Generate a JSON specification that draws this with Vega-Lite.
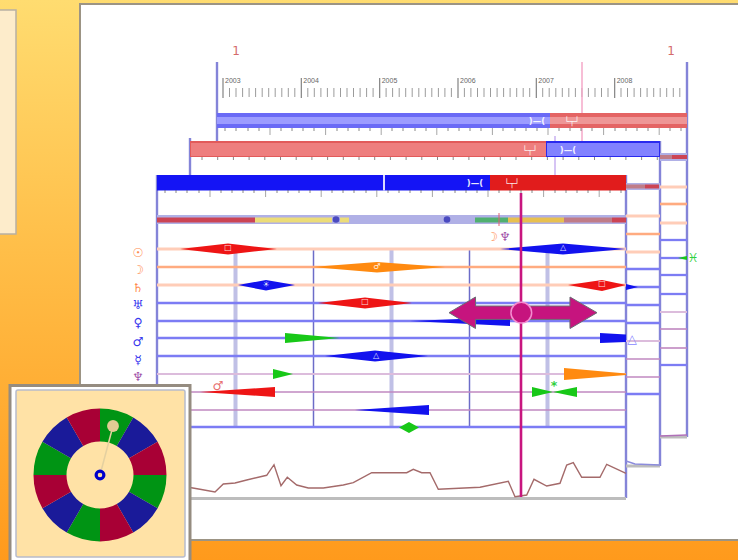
{"$schema":"https://vega.github.io/schema/vega-lite/v6.json","width":738,"height":560,"padding":0,"autosize":"none","background":"#ffffff","config":{"view":{"stroke":null},"axis":{"disable":true},"legend":{"disable":true}},"resolve":{"scale":{"color":"independent","size":"independent","strokeWidth":"independent"}},
"encoding":{"x":{"field":"x","type":"quantitative","scale":{"domain":[0,738],"nice":false,"zero":false}},"y":{"field":"y","type":"quantitative","scale":{"domain":[560,0],"nice":false,"zero":false}}},
"layer":[
{"data":{"values":[{"x":0,"x2":738,"y":0,"y2":560}]},"mark":{"type":"rect","color":{"x1":0,"y1":0,"x2":0,"y2":1,"gradient":"linear","stops":[{"offset":0,"color":"#ffdc70"},{"offset":0.45,"color":"#ffbe48"},{"offset":1,"color":"#ff9a1c"}]}},"encoding":{"x2":{"field":"x2"},"y2":{"field":"y2"}}},
{"data":{"values":[{"x":-2,"x2":16,"y":10,"y2":234}]},"mark":{"type":"rect","fill":"#fdeccb","stroke":"#b8b0a4","strokeWidth":1.5},"encoding":{"x2":{"field":"x2"},"y2":{"field":"y2"}}},
{"data":{"values":[{"x":80,"x2":742,"y":4,"y2":540}]},"mark":{"type":"rect","fill":"#ffffff","stroke":"#9c9484","strokeWidth":2},"encoding":{"x2":{"field":"x2"},"y2":{"field":"y2"}}},

{"data":{"values":[{"x":236,"y":51,"t":"1"},{"x":671,"y":51,"t":"1"}]},"mark":{"type":"text","font":"DejaVu Sans","fontSize":12,"color":"#d46a6a","align":"center","baseline":"middle"},"encoding":{"text":{"field":"t"}}},
{"data":{"values":[{"x":223,"y":81,"t":"2003"},{"x":301.3,"y":81,"t":"2004"},{"x":379.7,"y":81,"t":"2005"},{"x":458,"y":81,"t":"2006"},{"x":536.3,"y":81,"t":"2007"},{"x":614.7,"y":81,"t":"2008"}]},"mark":{"type":"text","font":"Liberation Sans","fontSize":7,"color":"#666666","align":"left","baseline":"middle","dx":2},"encoding":{"text":{"field":"t"}}},
{"data":{"values":[{"x":223,"y":78,"y2":98},{"x":301.3,"y":78,"y2":98},{"x":379.7,"y":78,"y2":98},{"x":458,"y":78,"y2":98},{"x":536.3,"y":78,"y2":98},{"x":614.7,"y":78,"y2":98}]},"mark":{"type":"rule","color":"#555555","strokeWidth":1.1,"opacity":0.8},"encoding":{"y2":{"field":"y2"}}},
{"data":{"values":[{"x":229.5,"y":88,"y2":97},{"x":236,"y":88,"y2":97},{"x":242.6,"y":88,"y2":97},{"x":249.1,"y":88,"y2":97},{"x":255.6,"y":88,"y2":97},{"x":262.2,"y":88,"y2":97},{"x":268.7,"y":88,"y2":97},{"x":275.2,"y":88,"y2":97},{"x":281.8,"y":88,"y2":97},{"x":288.3,"y":88,"y2":97},{"x":294.8,"y":88,"y2":97},{"x":307.8,"y":88,"y2":97},{"x":314.3,"y":88,"y2":97},{"x":320.9,"y":88,"y2":97},{"x":327.4,"y":88,"y2":97},{"x":333.9,"y":88,"y2":97},{"x":340.5,"y":88,"y2":97},{"x":347,"y":88,"y2":97},{"x":353.5,"y":88,"y2":97},{"x":360.1,"y":88,"y2":97},{"x":366.6,"y":88,"y2":97},{"x":373.1,"y":88,"y2":97},{"x":386.1,"y":88,"y2":97},{"x":392.6,"y":88,"y2":97},{"x":399.2,"y":88,"y2":97},{"x":405.7,"y":88,"y2":97},{"x":412.2,"y":88,"y2":97},{"x":418.8,"y":88,"y2":97},{"x":425.3,"y":88,"y2":97},{"x":431.8,"y":88,"y2":97},{"x":438.4,"y":88,"y2":97},{"x":444.9,"y":88,"y2":97},{"x":451.4,"y":88,"y2":97},{"x":464.4,"y":88,"y2":97},{"x":470.9,"y":88,"y2":97},{"x":477.5,"y":88,"y2":97},{"x":484,"y":88,"y2":97},{"x":490.5,"y":88,"y2":97},{"x":497.1,"y":88,"y2":97},{"x":503.6,"y":88,"y2":97},{"x":510.1,"y":88,"y2":97},{"x":516.7,"y":88,"y2":97},{"x":523.2,"y":88,"y2":97},{"x":529.7,"y":88,"y2":97},{"x":542.7,"y":88,"y2":97},{"x":549.2,"y":88,"y2":97},{"x":555.8,"y":88,"y2":97},{"x":562.3,"y":88,"y2":97},{"x":568.8,"y":88,"y2":97},{"x":575.4,"y":88,"y2":97},{"x":581.9,"y":88,"y2":97},{"x":588.4,"y":88,"y2":97},{"x":595,"y":88,"y2":97},{"x":601.5,"y":88,"y2":97},{"x":608,"y":88,"y2":97},{"x":621,"y":88,"y2":97},{"x":627.5,"y":88,"y2":97},{"x":634.1,"y":88,"y2":97},{"x":640.6,"y":88,"y2":97},{"x":647.1,"y":88,"y2":97},{"x":653.7,"y":88,"y2":97},{"x":660.2,"y":88,"y2":97},{"x":666.7,"y":88,"y2":97},{"x":673.3,"y":88,"y2":97},{"x":679.8,"y":88,"y2":97}]},"mark":{"type":"rule","color":"#666666","strokeWidth":1,"opacity":0.65},"encoding":{"y2":{"field":"y2"}}},

{"data":{"values":[{"x":582,"y":62,"y2":141}]},"mark":{"type":"rule","color":"#f4a8c8","strokeWidth":1.5},"encoding":{"y2":{"field":"y2"}}},
{"data":{"values":[{"x":555,"y":136,"y2":175}]},"mark":{"type":"rule","color":"#c8b0f0","strokeWidth":1.5},"encoding":{"y2":{"field":"y2"}}},
{"data":{"values":[{"x":217,"y":62,"y2":141},{"x":687,"y":62,"y2":437},{"x":190,"y":138,"y2":175},{"x":660,"y":141,"y2":466},{"x":157,"y":175,"y2":390},{"x":626,"y":175,"y2":498}]},"mark":{"type":"rule","color":"#8484d8","strokeWidth":2.4},"encoding":{"y2":{"field":"y2"}}},
{"data":{"values":[{"x":235.5,"y":250,"y2":427},{"x":391.5,"y":250,"y2":427},{"x":547.5,"y":250,"y2":427}]},"mark":{"type":"rule","color":"#c0c0e6","strokeWidth":4},"encoding":{"y2":{"field":"y2"}}},
{"data":{"values":[{"x":313.5,"y":250,"y2":427},{"x":469.5,"y":250,"y2":427}]},"mark":{"type":"rule","color":"#6c6cc8","strokeWidth":1.5},"encoding":{"y2":{"field":"y2"}}},

{"data":{"values":[{"x":157,"x2":626,"y":249,"t":"sun"},{"x":157,"x2":626,"y":267,"t":"moon"},{"x":157,"x2":626,"y":285,"t":"sun"},{"x":157,"x2":626,"y":303,"t":"blue"},{"x":157,"x2":626,"y":321,"t":"blue"},{"x":157,"x2":626,"y":338,"t":"blue"},{"x":157,"x2":626,"y":356,"t":"blue"},{"x":157,"x2":626,"y":374,"t":"mauveThick"},{"x":157,"x2":626,"y":392,"t":"mauve"},{"x":157,"x2":626,"y":410,"t":"mauve"},{"x":157,"x2":626,"y":427,"t":"blue"},
{"x":626,"x2":660,"y":216,"t":"sun"},{"x":626,"x2":660,"y":234,"t":"moon"},{"x":626,"x2":660,"y":252,"t":"sun"},{"x":626,"x2":660,"y":269,"t":"blue"},{"x":626,"x2":660,"y":287,"t":"blue"},{"x":626,"x2":660,"y":305,"t":"blue"},{"x":626,"x2":660,"y":323,"t":"blue"},{"x":626,"x2":660,"y":341,"t":"mauveThick"},{"x":626,"x2":660,"y":359,"t":"mauve"},{"x":626,"x2":660,"y":377,"t":"mauve"},{"x":626,"x2":660,"y":394,"t":"blue"},
{"x":660,"x2":687,"y":187,"t":"sun"},{"x":660,"x2":687,"y":204,"t":"moon"},{"x":660,"x2":687,"y":223,"t":"sun"},{"x":660,"x2":687,"y":240,"t":"blue"},{"x":660,"x2":687,"y":258,"t":"blue"},{"x":660,"x2":687,"y":275,"t":"blue"},{"x":660,"x2":687,"y":294,"t":"blue"},{"x":660,"x2":687,"y":312,"t":"mauveThick"},{"x":660,"x2":687,"y":329,"t":"mauve"},{"x":660,"x2":687,"y":348,"t":"mauve"},{"x":660,"x2":687,"y":365,"t":"blue"}]},"mark":{"type":"rule"},"encoding":{"x2":{"field":"x2"},"color":{"field":"t","type":"nominal","scale":{"domain":["sun","moon","blue","mauveThick","mauve"],"range":["#ffcdb8","#ffab80","#7c7cf4","#dcbcdc","#c088c0"]}},"strokeWidth":{"field":"t","type":"nominal","scale":{"domain":["sun","moon","blue","mauveThick","mauve"],"range":[3,1.6,1.4,3,1.6]}}}},

{"data":{"values":[{"x":626,"x2":660,"y":466},{"x":660,"x2":687,"y":437},{"x":157,"x2":626,"y":498.5}]},"mark":{"type":"rule","color":"#bdbdbd","strokeWidth":3},"encoding":{"x2":{"field":"x2"}}},
{"data":{"values":[{"x":626,"y":461},{"x":635,"y":464},{"x":660,"y":465}]},"mark":{"type":"line","color":"#8c8cdc","strokeWidth":1.5},"encoding":{}},
{"data":{"values":[{"x":660,"y":436},{"x":687,"y":435}]},"mark":{"type":"line","color":"#b070b8","strokeWidth":1.5},"encoding":{}},

{"data":{"values":[{"x":217,"x2":550,"y":113,"y2":128,"t":"backBlue"},{"x":550,"x2":687,"y":113,"y2":128,"t":"backRed"},{"x":217,"x2":550,"y":117,"y2":124,"t":"backBlueMid"},{"x":550,"x2":687,"y":117,"y2":124,"t":"backRedMid"},{"x":190,"x2":546,"y":141,"y2":157,"t":"midRedEdge"},{"x":191,"x2":546,"y":143,"y2":156,"t":"midRed"},{"x":546,"x2":660,"y":141,"y2":157,"t":"midBlueEdge"},{"x":547,"x2":659,"y":143,"y2":156,"t":"midBlue"},{"x":157,"x2":490,"y":175,"y2":190.5,"t":"frontBlue"},{"x":383,"x2":385,"y":175,"y2":190.5,"t":"gap"},{"x":490,"x2":626,"y":175,"y2":190.5,"t":"frontRed"},
{"x":157,"x2":626,"y":215,"y2":224,"t":"lav"},{"x":626,"x2":660,"y":183,"y2":190,"t":"lav"},{"x":660,"x2":687,"y":153,"y2":161,"t":"lav"},
{"x":157,"x2":255,"y":217.5,"y2":222.5,"t":"segRed"},{"x":255,"x2":332,"y":217.5,"y2":222.5,"t":"segYellow"},{"x":340,"x2":349,"y":217.5,"y2":222.5,"t":"segYellow"},{"x":475,"x2":508,"y":217.5,"y2":222.5,"t":"segGreen"},{"x":508,"x2":564,"y":217.5,"y2":222.5,"t":"segAmber"},{"x":564,"x2":612,"y":217.5,"y2":222.5,"t":"segRose"},{"x":612,"x2":626,"y":217.5,"y2":222.5,"t":"segRed"},{"x":626,"x2":645,"y":184.5,"y2":188.5,"t":"segRose"},{"x":645,"x2":659,"y":184.5,"y2":188.5,"t":"segRed"},{"x":660,"x2":672,"y":155,"y2":159,"t":"segRose"},{"x":672,"x2":687,"y":155,"y2":159,"t":"segRed"}]},"mark":{"type":"rect"},"encoding":{"x2":{"field":"x2"},"y2":{"field":"y2"},"color":{"field":"t","type":"nominal","scale":{"domain":["backBlue","backRed","backBlueMid","backRedMid","midRedEdge","midRed","midBlueEdge","midBlue","frontBlue","gap","frontRed","lav","segRed","segYellow","segGreen","segAmber","segRose"],"range":["#6a6af6","#e46464","#9c9cff","#ee9696","#e25a5a","#ee7e7e","#2a2aee","#8282ff","#1414f5","#d8d8ff","#e11c1c","#b0b0e6","#cc4454","#ecdc78","#50b070","#e8c050","#c07c88"]}}}},
{"data":{"values":[{"x":336,"y":219.5},{"x":447,"y":219.5}]},"mark":{"type":"point","filled":true,"color":"#4a4ac0","opacity":1,"size":44},"encoding":{}},
{"data":{"values":[{"x":499,"y":213,"y2":226}]},"mark":{"type":"rule","color":"#e06070","strokeWidth":1},"encoding":{"y2":{"field":"y2"}}},

{"data":{"values":[{"x":225,"y":128,"y2":131},{"x":236,"y":128,"y2":131},{"x":248,"y":128,"y2":131},{"x":259,"y":128,"y2":131},{"x":281,"y":128,"y2":131},{"x":292,"y":128,"y2":131},{"x":303,"y":128,"y2":131},{"x":314,"y":128,"y2":131},{"x":337,"y":128,"y2":131},{"x":348,"y":128,"y2":131},{"x":359,"y":128,"y2":131},{"x":370,"y":128,"y2":131},{"x":392,"y":128,"y2":131},{"x":403,"y":128,"y2":131},{"x":415,"y":128,"y2":131},{"x":426,"y":128,"y2":131},{"x":448,"y":128,"y2":131},{"x":459,"y":128,"y2":131},{"x":470,"y":128,"y2":131},{"x":481,"y":128,"y2":131},{"x":503,"y":128,"y2":131},{"x":515,"y":128,"y2":131},{"x":526,"y":128,"y2":131},{"x":537,"y":128,"y2":131},{"x":559,"y":128,"y2":131},{"x":570,"y":128,"y2":131},{"x":581,"y":128,"y2":131},{"x":592,"y":128,"y2":131},{"x":615,"y":128,"y2":131},{"x":626,"y":128,"y2":131},{"x":637,"y":128,"y2":131},{"x":648,"y":128,"y2":131},{"x":670,"y":128,"y2":131},{"x":681,"y":128,"y2":131},
{"x":202,"y":157,"y2":160},{"x":217.7,"y":157,"y2":160},{"x":233.4,"y":157,"y2":160},{"x":249.1,"y":157,"y2":160},{"x":264.8,"y":157,"y2":160},{"x":280.5,"y":157,"y2":160},{"x":296.2,"y":157,"y2":160},{"x":311.9,"y":157,"y2":160},{"x":327.6,"y":157,"y2":160},{"x":343.3,"y":157,"y2":160},{"x":359,"y":157,"y2":160},{"x":374.7,"y":157,"y2":160},{"x":390.4,"y":157,"y2":160},{"x":406.1,"y":157,"y2":160},{"x":421.8,"y":157,"y2":160},{"x":437.5,"y":157,"y2":160},{"x":453.2,"y":157,"y2":160},{"x":468.9,"y":157,"y2":160},{"x":484.6,"y":157,"y2":160},{"x":500.3,"y":157,"y2":160},{"x":516,"y":157,"y2":160},{"x":531.7,"y":157,"y2":160},{"x":547.4,"y":157,"y2":160},{"x":563.1,"y":157,"y2":160},{"x":578.8,"y":157,"y2":160},{"x":594.5,"y":157,"y2":160},{"x":610.2,"y":157,"y2":160},{"x":625.9,"y":157,"y2":160},{"x":641.6,"y":157,"y2":160},{"x":657.3,"y":157,"y2":160},
{"x":165,"y":190,"y2":193},{"x":176,"y":190,"y2":193},{"x":187,"y":190,"y2":193},{"x":199,"y":190,"y2":193},{"x":221,"y":190,"y2":193},{"x":232,"y":190,"y2":193},{"x":243,"y":190,"y2":193},{"x":254,"y":190,"y2":193},{"x":277,"y":190,"y2":193},{"x":288,"y":190,"y2":193},{"x":299,"y":190,"y2":193},{"x":310,"y":190,"y2":193},{"x":332,"y":190,"y2":193},{"x":343,"y":190,"y2":193},{"x":354,"y":190,"y2":193},{"x":366,"y":190,"y2":193},{"x":388,"y":190,"y2":193},{"x":399,"y":190,"y2":193},{"x":410,"y":190,"y2":193},{"x":421,"y":190,"y2":193},{"x":443,"y":190,"y2":193},{"x":455,"y":190,"y2":193},{"x":466,"y":190,"y2":193},{"x":477,"y":190,"y2":193},{"x":499,"y":190,"y2":193},{"x":510,"y":190,"y2":193},{"x":521,"y":190,"y2":193},{"x":532,"y":190,"y2":193},{"x":555,"y":190,"y2":193},{"x":566,"y":190,"y2":193},{"x":577,"y":190,"y2":193},{"x":588,"y":190,"y2":193},{"x":610,"y":190,"y2":193},{"x":621,"y":190,"y2":193}]},"mark":{"type":"rule","color":"#555555","strokeWidth":1,"opacity":0.7},"encoding":{"y2":{"field":"y2"}}},
{"data":{"values":[{"x":270,"y":128,"y2":135},{"x":325.6,"y":128,"y2":135},{"x":381.2,"y":128,"y2":135},{"x":436.8,"y":128,"y2":135},{"x":492.4,"y":128,"y2":135},{"x":548,"y":128,"y2":135},{"x":603.6,"y":128,"y2":135},{"x":659.2,"y":128,"y2":135},{"x":210,"y":190,"y2":197},{"x":265.6,"y":190,"y2":197},{"x":321.2,"y":190,"y2":197},{"x":376.8,"y":190,"y2":197},{"x":432.4,"y":190,"y2":197},{"x":488,"y":190,"y2":197},{"x":543.6,"y":190,"y2":197},{"x":599.2,"y":190,"y2":197}]},"mark":{"type":"rule","color":"#777777","strokeWidth":1,"opacity":0.65},"encoding":{"y2":{"field":"y2"}}},

{"data":{"values":[
{"id":"a1","c":"red","x":180,"y":249,"y2":249},{"id":"a1","c":"red","x":228,"y":243.5,"y2":254.5},{"id":"a1","c":"red","x":277,"y":249,"y2":249},
{"id":"a2","c":"orange","x":312,"y":267,"y2":267},{"id":"a2","c":"orange","x":377,"y":262,"y2":272.5},{"id":"a2","c":"orange","x":445,"y":267,"y2":267},
{"id":"a3","c":"blue","x":238,"y":285,"y2":285},{"id":"a3","c":"blue","x":266,"y":280,"y2":290.5},{"id":"a3","c":"blue","x":295,"y":285,"y2":285},
{"id":"a4","c":"red","x":318,"y":303,"y2":303},{"id":"a4","c":"red","x":365,"y":297.5,"y2":308.5},{"id":"a4","c":"red","x":412,"y":303,"y2":303},
{"id":"a5","c":"blue","x":410,"y":321,"y2":321},{"id":"a5","c":"blue","x":510,"y":317,"y2":326},
{"id":"a6","c":"green","x":285,"y":333,"y2":343},{"id":"a6","c":"green","x":340,"y":338,"y2":338},
{"id":"a7","c":"blue","x":600,"y":333,"y2":343},{"id":"a7","c":"blue","x":626,"y":334.5,"y2":342},
{"id":"a8","c":"blue","x":325,"y":356,"y2":356},{"id":"a8","c":"blue","x":375,"y":350.5,"y2":361.5},{"id":"a8","c":"blue","x":428,"y":356,"y2":356},
{"id":"a9","c":"green","x":273,"y":369,"y2":379},{"id":"a9","c":"green","x":293,"y":374,"y2":374},
{"id":"a10","c":"orange","x":564,"y":368,"y2":380},{"id":"a10","c":"orange","x":626,"y":373.5,"y2":375},
{"id":"a11","c":"red","x":200,"y":392,"y2":392},{"id":"a11","c":"red","x":275,"y":387,"y2":397},
{"id":"a12","c":"green","x":532,"y":387,"y2":397},{"id":"a12","c":"green","x":553,"y":392,"y2":392},
{"id":"a13","c":"green","x":553,"y":392,"y2":392},{"id":"a13","c":"green","x":577,"y":387,"y2":397},
{"id":"a14","c":"blue","x":355,"y":410,"y2":410},{"id":"a14","c":"blue","x":429,"y":405,"y2":415},
{"id":"a15","c":"green","x":399,"y":427.5,"y2":427.5},{"id":"a15","c":"green","x":409,"y":422,"y2":433},{"id":"a15","c":"green","x":419,"y":427.5,"y2":427.5},
{"id":"a16","c":"blue","x":500,"y":249,"y2":249},{"id":"a16","c":"blue","x":563,"y":243.5,"y2":254.5},{"id":"a16","c":"blue","x":626,"y":249,"y2":249},
{"id":"a17","c":"red","x":568,"y":285,"y2":285},{"id":"a17","c":"red","x":602,"y":280,"y2":291},{"id":"a17","c":"red","x":626,"y":285,"y2":285},
{"id":"a18","c":"blue","x":626,"y":284,"y2":290},{"id":"a18","c":"blue","x":638,"y":287,"y2":287},
{"id":"a19","c":"green","x":678,"y":258,"y2":258},{"id":"a19","c":"green","x":687,"y":256,"y2":260}
]},"mark":{"type":"area"},"encoding":{"y2":{"field":"y2"},"detail":{"field":"id"},"color":{"field":"c","type":"nominal","scale":{"domain":["red","orange","blue","green"],"range":["#ee1515","#ff8a10","#1212ee","#18c818"]}}}},

{"data":{"values":[{"x":228,"y":248,"t":"□"},{"x":365,"y":302,"t":"□"},{"x":602,"y":284,"t":"□"},{"x":377,"y":267,"t":"♂"},{"x":266,"y":285,"t":"☀"},{"x":376,"y":356,"t":"△"},{"x":563,"y":248,"t":"△"},{"x":505,"y":321,"t":"*"}]},"mark":{"type":"text","font":"DejaVu Sans","fontSize":8,"color":"#ffffff","opacity":0.85,"align":"center","baseline":"middle"},"encoding":{"text":{"field":"t"}}},
{"data":{"values":[{"x":537,"y":120.5,"t":")—("},{"x":568,"y":149.5,"t":")—("},{"x":475,"y":183,"t":")—("},{"x":572,"y":120.5,"t":"└┬┘"},{"x":530,"y":149.5,"t":"└┬┘"},{"x":512,"y":183,"t":"└┬┘"}]},"mark":{"type":"text","font":"DejaVu Sans","fontSize":8.5,"fontWeight":"bold","color":"#ffffff","opacity":0.9,"align":"center","baseline":"middle"},"encoding":{"text":{"field":"t"}}},

{"data":{"values":[{"x":138,"y":253,"t":"☉","c":"a"},{"x":138,"y":270,"t":"☽","c":"a"},{"x":138,"y":288,"t":"♄","c":"a"},{"x":138,"y":305,"t":"♅","c":"b"},{"x":138,"y":323,"t":"♀","c":"b"},{"x":138,"y":342,"t":"♂","c":"b"},{"x":138,"y":360,"t":"☿","c":"b"},{"x":138,"y":377,"t":"♆","c":"m"},{"x":492,"y":237,"t":"☽","c":"a"},{"x":505,"y":237,"t":"♆","c":"m"},{"x":218,"y":386,"t":"♂","c":"r"},{"x":554,"y":386,"t":"*","c":"g"},{"x":693,"y":258,"t":"♓","c":"g"},{"x":632,"y":339,"t":"△","c":"l"}]},"mark":{"type":"text","font":"DejaVu Sans","fontSize":12.5,"fontWeight":"bold","align":"center","baseline":"middle"},"encoding":{"text":{"field":"t"},"color":{"field":"c","type":"nominal","scale":{"domain":["a","b","m","r","g","l"],"range":["#ff8c50","#3838ee","#a050a8","#e87070","#30d040","#8888ff"]}}}},

{"data":{"values":[{"x":190,"y":487.5},{"x":200,"y":489.3},{"x":215,"y":492},{"x":223.3,"y":484},{"x":235,"y":483},{"x":246.7,"y":480},{"x":266.7,"y":475.3},{"x":274,"y":464.7},{"x":281,"y":485.7},{"x":287.3,"y":477.3},{"x":296.7,"y":485},{"x":308.3,"y":488},{"x":323.3,"y":488},{"x":343.3,"y":485},{"x":353.3,"y":482.7},{"x":371.7,"y":472.7},{"x":406.7,"y":472.7},{"x":413.3,"y":469.3},{"x":421.7,"y":472.7},{"x":430,"y":472.7},{"x":438.3,"y":489.3},{"x":480,"y":487.3},{"x":508.3,"y":481.3},{"x":515,"y":496.7},{"x":526.7,"y":495},{"x":534,"y":479.3},{"x":546.7,"y":486},{"x":560,"y":483.3},{"x":566.7,"y":465},{"x":573.3,"y":462.7},{"x":581.7,"y":477.3},{"x":600,"y":477.3},{"x":606.7,"y":464.3},{"x":626,"y":473.3}]},"mark":{"type":"line","color":"#a46a6a","strokeWidth":1.4},"encoding":{}},

{"data":{"values":[{"x":521,"y":193,"y2":497}]},"mark":{"type":"rule","color":"#c8157f","strokeWidth":2.6},"encoding":{"y2":{"field":"y2"}}},
{"data":{"values":[{"x":449,"y":312.7,"y2":312.7},{"x":475.5,"y":297,"y2":328.5},{"x":475.6,"y":306,"y2":319.4},{"x":569.9,"y":306,"y2":319.4},{"x":570,"y":297,"y2":328.5},{"x":597,"y":312.7,"y2":312.7}]},"mark":{"type":"area","color":"#c6147e","stroke":"#6a6c74","strokeWidth":1},"encoding":{"y2":{"field":"y2"}}},
{"data":{"values":[{"x":521.3,"y":312.7}]},"mark":{"type":"point","filled":true,"fill":"#c6147e","stroke":"#f48cd0","strokeWidth":1.5,"opacity":1,"size":430},"encoding":{}},

{"data":{"values":[{"x":10,"x2":190,"y":385.5,"y2":565}]},"mark":{"type":"rect","fill":"#ffffff","stroke":"#958c80","strokeWidth":3},"encoding":{"x2":{"field":"x2"},"y2":{"field":"y2"}}},
{"data":{"values":[{"x":16,"x2":185,"y":390,"y2":557}]},"mark":{"type":"rect","fill":"#ffe2a6","stroke":"#b8bccc","strokeWidth":1.5,"cornerRadius":2},"encoding":{"x2":{"field":"x2"},"y2":{"field":"y2"}}},
{"data":{"values":[{"x":100,"y":475,"a0":0,"a1":30,"sign":"earth"},{"x":100,"y":475,"a0":30,"a1":60,"sign":"water"},{"x":100,"y":475,"a0":60,"a1":90,"sign":"fire"},{"x":100,"y":475,"a0":90,"a1":120,"sign":"earth"},{"x":100,"y":475,"a0":120,"a1":150,"sign":"water"},{"x":100,"y":475,"a0":150,"a1":180,"sign":"fire"},{"x":100,"y":475,"a0":180,"a1":210,"sign":"earth"},{"x":100,"y":475,"a0":210,"a1":240,"sign":"water"},{"x":100,"y":475,"a0":240,"a1":270,"sign":"fire"},{"x":100,"y":475,"a0":270,"a1":300,"sign":"earth"},{"x":100,"y":475,"a0":300,"a1":330,"sign":"water"},{"x":100,"y":475,"a0":330,"a1":360,"sign":"fire"}]},"mark":{"type":"arc","radius":66.5,"radius2":33.5,"cornerRadius":0,"padAngle":0},"encoding":{"theta":{"field":"a0","type":"quantitative","stack":null,"scale":{"domain":[0,360],"range":[0,6.28319]}},"theta2":{"field":"a1"},"color":{"field":"sign","type":"nominal","scale":{"domain":["earth","water","fire"],"range":["#009414","#1a1a99","#a80035"]}}}},
{"data":{"values":[{"x":100,"y":475},{"x":113,"y":426}]},"mark":{"type":"line","color":"#e4d0a0","strokeWidth":1.5,"orient":"vertical"},"encoding":{}},
{"data":{"values":[{"x":113,"y":426}]},"mark":{"type":"point","filled":true,"color":"#e2cb94","opacity":1,"size":140},"encoding":{}},
{"data":{"values":[{"x":100,"y":475}]},"mark":{"type":"point","filled":false,"color":"#0000cc","opacity":1,"strokeWidth":3.2,"size":60},"encoding":{}}
]}
